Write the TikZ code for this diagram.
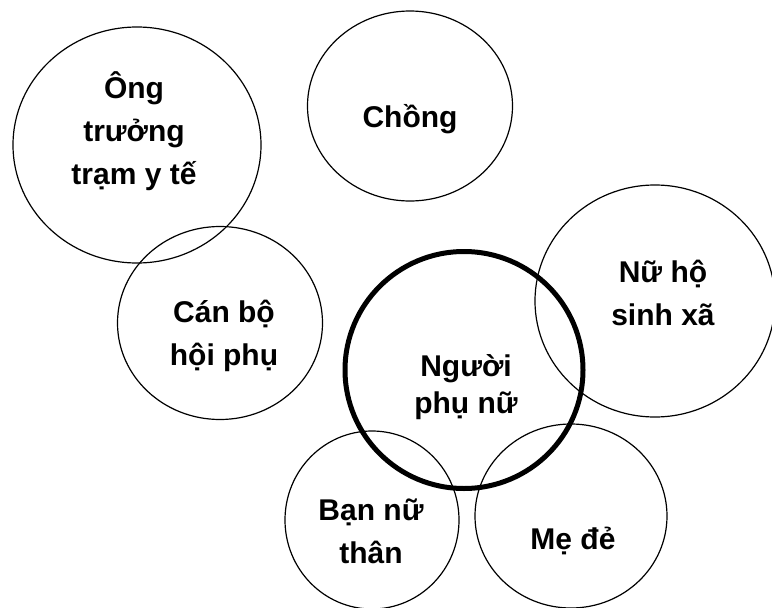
\documentclass[tikz,border=0pt]{standalone}
\usepackage{fontspec}
\setmainfont{Liberation Sans}
\usetikzlibrary{shapes.geometric}

\tikzset{
    ring/.style={draw,ellipse,line width=1.2pt,inner sep=0pt},
    word/.style={align=center,font=\fontsize{30}{43}\selectfont\bfseries}
}

\begin{document}
\begin{tikzpicture}[x=1pt,y=-1pt]
    \useasboundingbox (0,0) rectangle (772,608);
    \foreach \name/\cx/\cy/\w/\h in {yte/137/145/248/236, chong/410/106/205/190,
        hoiphu/220/323/205/193, hosinh/655/301/240/232,
        bannu/372/520/174/178, mede/571/516/192/184} {
        \node[ring,minimum width=\w pt,minimum height=\h pt] (\name) at (\cx,\cy) {};
    }
    \node[ring,line width=5pt,minimum width=238pt,minimum height=237pt] (phunu) at (464,370) {};
    % labels
    \node[word] (yte-t) at (134,131) {Ông\\trưởng\\trạm y tế};
    \node[word,anchor=base] (chong-t) at (410,127) {Chồng};
    \node[word] (hoiphu-t) at (224,336) {Cán bộ\\hội phụ};
    \node[word,font=\fontsize{30}{37}\selectfont\bfseries] (phunu-t) at (466,387) {Người\\phụ nữ};
    \node[word] (hosinh-t) at (663,293) {Nữ hộ\\sinh xã};
    \node[word] (bannu-t) at (371,531) {Bạn nữ\\thân};
    \node[word,anchor=base] (mede-t) at (573,549) {Mẹ đẻ};
\end{tikzpicture}
\end{document}
